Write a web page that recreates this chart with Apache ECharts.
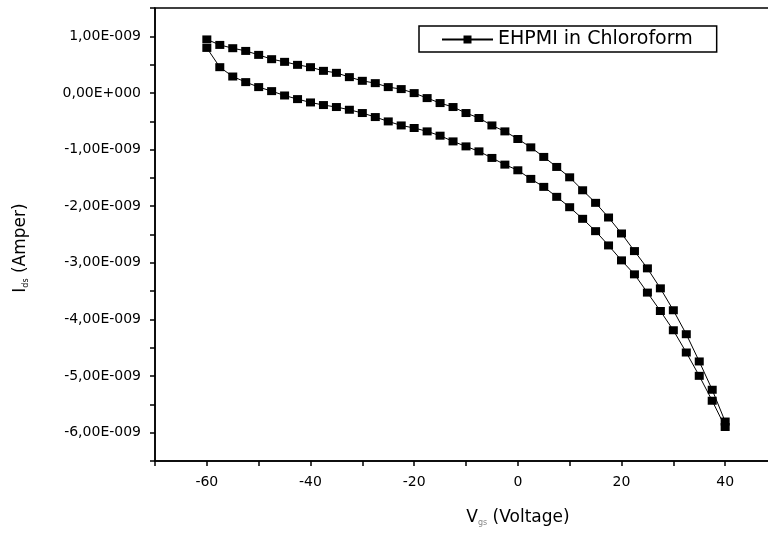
<!DOCTYPE html>
<html>
<head>
<meta charset="utf-8">
<script src="https://cdn.jsdelivr.net/npm/echarts@6/dist/echarts.min.js"></script>
<style>html,body{margin:0;padding:0;background:#fff;}#c{width:768px;height:540px;}</style>
</head>
<body>
<div id="c"></div>
<script>
// Gate voltage steps (V)
var voltages = [-60,-57.5,-55,-52.5,-50,-47.5,-45,-42.5,-40,-37.5,-35,-32.5,-30,-27.5,-25,-22.5,-20,-17.5,-15,-12.5,-10,-7.5,-5,-2.5,0,2.5,5,7.5,10,12.5,15,17.5,20,22.5,25,27.5,30,32.5,35,37.5,40];
// Ids in units of 1E-009 A, upper branch of the hysteresis loop
var currentUpper = [0.945,0.848,0.790,0.742,0.672,0.596,0.549,0.496,0.455,0.390,0.355,0.279,0.214,0.173,0.103,0.068,-0.003,-0.091,-0.179,-0.249,-0.355,-0.443,-0.574,-0.679,-0.813,-0.961,-1.130,-1.307,-1.490,-1.719,-1.941,-2.200,-2.482,-2.793,-3.098,-3.451,-3.838,-4.261,-4.742,-5.242,-5.803];
// Ids in units of 1E-009 A, lower branch of the hysteresis loop
var currentLower = [0.795,0.455,0.290,0.191,0.103,0.032,-0.045,-0.109,-0.168,-0.214,-0.249,-0.297,-0.355,-0.426,-0.503,-0.574,-0.619,-0.679,-0.755,-0.856,-0.944,-1.032,-1.148,-1.266,-1.366,-1.518,-1.659,-1.835,-2.018,-2.223,-2.441,-2.693,-2.957,-3.204,-3.526,-3.851,-4.191,-4.584,-4.996,-5.436,-5.900];
var seriesName = 'EHPMI in Chloroform';
var xTickLabels = [-60,-40,-20,0,20,40];
var yTickLabels = [1,0,-1,-2,-3,-4,-5,-6];

var loop = [];
for (var i = 0; i < voltages.length; i++) loop.push([voltages[i], currentUpper[i]]);
for (var j = voltages.length - 1; j >= 0; j--) loop.push([voltages[j], currentLower[j]]);

function fmtY(v) {
  var r = Math.round(v * 100) / 100;
  if (yTickLabels.indexOf(r) < 0) return '';
  if (r === 0) return '0,00E+000';
  return (r < 0 ? '-' : '') + Math.abs(r).toFixed(2).replace('.', ',') + 'E-009';
}
function fmtX(v) {
  var r = Math.round(v * 100) / 100;
  return xTickLabels.indexOf(r) >= 0 ? String(r) : '';
}

var FONT = 'DejaVu Sans';
var chart = echarts.init(document.getElementById('c'), null, {renderer: 'canvas'});
chart.setOption({
  animation: false,
  backgroundColor: '#fff',
  textStyle: {fontFamily: FONT, color: '#000'},
  grid: {left: 155, top: 8, width: 622, height: 453, show: true, borderColor: '#000', borderWidth: 1.5, containLabel: false, outerBoundsMode: 'none'},
  legend: {
    left: 419, top: 26,
    padding: [4, 24, 3, 22],
    borderColor: '#000', borderWidth: 1.5, borderRadius: 0,
    itemWidth: 51, itemHeight: 10, itemGap: 5,
    textStyle: {fontFamily: FONT, fontSize: 19, color: '#000'},
    data: [{name: seriesName}]
  },
  xAxis: {
    type: 'value', min: -70, max: 50, interval: 10,
    axisLine: {onZero: false, lineStyle: {color: '#000', width: 1.5}},
    axisTick: {inside: false, length: 5, lineStyle: {color: '#000', width: 1.5}},
    splitLine: {show: false},
    axisLabel: {formatter: fmtX, fontSize: 14, color: '#000', margin: 14, fontFamily: FONT},
    name: '{m|V}{s|gs}{m| (Voltage)}',
    nameLocation: 'middle', nameGap: 48,
    nameTextStyle: {
      padding: [0, 0, 0, 104],
      rich: {
        m: {fontSize: 17, fontFamily: FONT, color: '#000'},
        s: {fontSize: 8, fontFamily: FONT, color: '#888', padding: [10, 0, 0, 0]}
      }
    }
  },
  yAxis: {
    type: 'value', min: -6.5, max: 1.5, interval: 0.5,
    axisLine: {onZero: false, lineStyle: {color: '#000', width: 1.5}},
    axisTick: {inside: false, length: 5, lineStyle: {color: '#000', width: 1.5}},
    splitLine: {show: false},
    axisLabel: {formatter: fmtY, fontSize: 14, color: '#000', margin: 14, fontFamily: FONT},
    name: '{m|I}{s|ds}{m| (Amper)}',
    nameLocation: 'middle', nameRotate: 90, nameGap: 125,
    nameTextStyle: {
      padding: [0, 27, 0, 0],
      rich: {
        m: {fontSize: 17, fontFamily: FONT, color: '#000'},
        s: {fontSize: 8, fontFamily: FONT, color: '#000', padding: [10, 0, 0, 0]}
      }
    }
  },
  series: [{
    name: seriesName,
    type: 'line',
    data: loop,
    symbol: 'rect', symbolSize: [9, 8],
    showAllSymbol: true,
    itemStyle: {color: '#000'},
    lineStyle: {color: '#000', width: 1},
    clip: false
  }]
});
</script>
</body>
</html>
